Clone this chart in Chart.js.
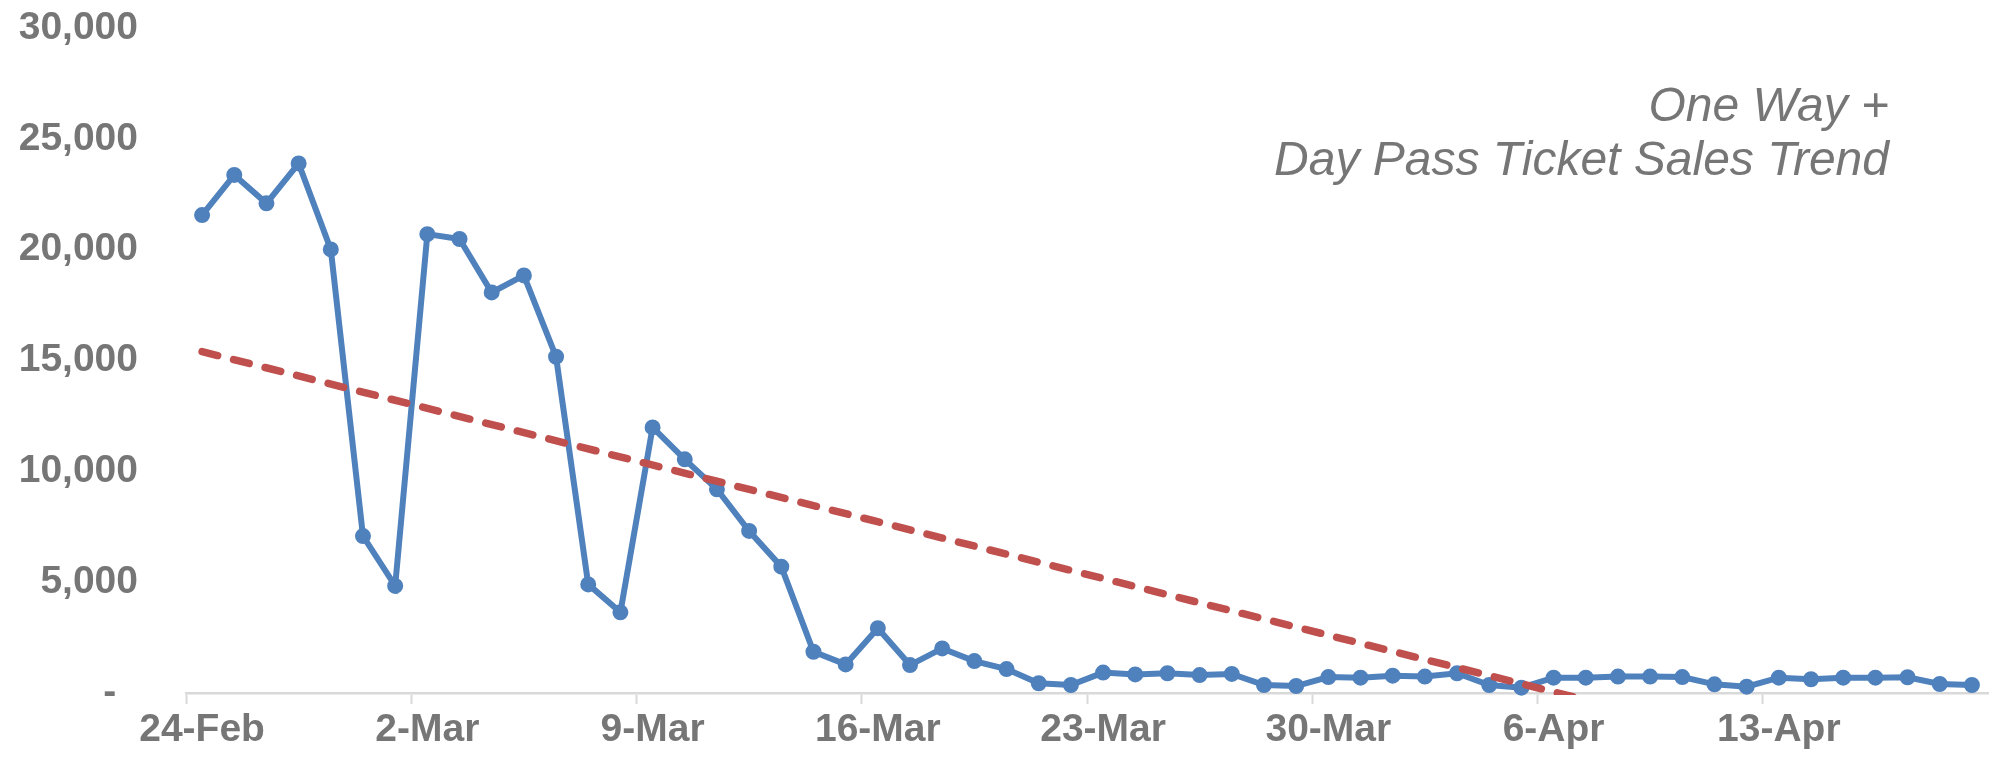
<!DOCTYPE html>
<html>
<head>
<meta charset="utf-8">
<title>One Way + Day Pass Ticket Sales Trend</title>
<script src="https://cdn.jsdelivr.net/npm/chart.js@4.4.1/dist/chart.umd.min.js"></script>
<style>
  html, body { margin: 0; padding: 0; background: #ffffff; }
  #wrap { position: relative; width: 1997px; height: 761px; }
</style>
</head>
<body>
<div id="wrap"><canvas id="chart"></canvas></div>
<script>
// Daily dates, 24 Feb - 19 Apr
const dates = [
  '24-Feb','25-Feb','26-Feb','27-Feb','28-Feb','29-Feb',
  '1-Mar','2-Mar','3-Mar','4-Mar','5-Mar','6-Mar','7-Mar','8-Mar','9-Mar','10-Mar',
  '11-Mar','12-Mar','13-Mar','14-Mar','15-Mar','16-Mar','17-Mar','18-Mar','19-Mar','20-Mar',
  '21-Mar','22-Mar','23-Mar','24-Mar','25-Mar','26-Mar','27-Mar','28-Mar','29-Mar','30-Mar','31-Mar',
  '1-Apr','2-Apr','3-Apr','4-Apr','5-Apr','6-Apr','7-Apr','8-Apr','9-Apr','10-Apr',
  '11-Apr','12-Apr','13-Apr','14-Apr','15-Apr','16-Apr','17-Apr','18-Apr','19-Apr'
];

// One way + day pass tickets sold per day
const ticketSales = [
  21560, 23370, 22090, 23890, 20010, 7080,
  4830, 20700, 20480, 18070, 18840, 15170, 4900, 3640, 11980, 10540,
  9190, 7310, 5700, 1860, 1290, 2920, 1260, 2010, 1440, 1080,
  440, 360, 920, 840, 890, 810, 860, 360, 315, 720, 690,
  780, 740, 890, 360, 240, 690, 690, 740, 740, 720,
  390, 285, 690, 620, 690, 690, 710, 405, 360
];

// Linear trend: value on the first and on the last day
const trendFirst = 15400;
const trendLast = -4700;

// Value axis ticks
const yTickValues = [0, 5000, 10000, 15000, 20000, 25000, 30000];

const titleLines = ['One Way +', 'Day Pass Ticket Sales Trend'];

const GREY = '#767676';
const BLUE = '#4F81BD';
const RED = '#C0504D';
const AXIS = '#D9D9D9';
const FONT = '"Liberation Sans", Arial, Helvetica, sans-serif';

const trendData = dates.map((d, i) =>
  i === 0 ? trendFirst : (i === dates.length - 1 ? trendLast : null));

const cornerTitle = {
  id: 'cornerTitle',
  afterDraw(chart) {
    const ctx = chart.ctx;
    ctx.save();
    ctx.font = 'italic 48px ' + FONT;
    ctx.fillStyle = GREY;
    ctx.textAlign = 'right';
    ctx.textBaseline = 'alphabetic';
    ctx.fillText(titleLines[0], 1889, 121);
    ctx.fillText(titleLines[1], 1889, 175);
    ctx.restore();
  }
};

new Chart(document.getElementById('chart'), {
  type: 'line',
  data: {
    labels: dates,
    datasets: [
      {
        label: 'Trend',
        data: trendData,
        spanGaps: true,
        borderColor: RED,
        borderWidth: 7.5,
        borderDash: [16, 16.5],
        borderCapStyle: 'round',
        pointRadius: 0,
        pointHoverRadius: 0,
        fill: false,
        tension: 0,
        clip: { left: 0, top: 0, right: 0, bottom: 2 },
        order: 0
      },
      {
        label: 'One Way + Day Pass',
        data: ticketSales,
        borderColor: BLUE,
        backgroundColor: BLUE,
        borderWidth: 6,
        pointRadius: 7,
        pointBorderWidth: 2,
        pointBackgroundColor: BLUE,
        pointBorderColor: BLUE,
        fill: false,
        tension: 0,
        clip: false,
        order: 1
      }
    ]
  },
  options: {
    responsive: true,
    maintainAspectRatio: false,
    devicePixelRatio: 1,
    animation: false,
    layout: { padding: { top: 28, right: 1, left: 0, bottom: 0 } },
    plugins: {
      legend: { display: false },
      tooltip: { enabled: false },
      title: { display: false }
    },
    scales: {
      x: {
        type: 'category',
        offset: true,
        grid: {
          display: true,
          offset: true,
          drawOnChartArea: false,
          drawTicks: true,
          tickLength: 11,
          tickWidth: 2,
          color: ctx => (ctx.index % 7 === 0 ? AXIS : 'rgba(0,0,0,0)'),
          tickColor: ctx => (ctx.index % 7 === 0 ? AXIS : 'rgba(0,0,0,0)')
        },
        border: { display: true, color: AXIS, width: 2.5 },
        ticks: {
          autoSkip: false,
          maxRotation: 0,
          minRotation: 0,
          padding: 3,
          color: GREY,
          font: { family: FONT, size: 39, weight: 'bold' },
          callback: (value, index) => (index % 7 === 0 ? dates[index] : '')
        },
        afterFit: scale => { scale.height = 68; }
      },
      y: {
        min: 0,
        max: 30000,
        grid: { display: false, drawTicks: false },
        border: { display: false },
        afterBuildTicks: scale => { scale.ticks = yTickValues.map(v => ({ value: v })); },
        ticks: {
          padding: 48,
          color: GREY,
          font: { family: FONT, size: 39, weight: 'bold' },
          callback: v => (v === 0 ? '-  ' : Number(v).toLocaleString('en-US'))
        },
        afterFit: scale => {
          scale.width = 186;
          scale.paddingTop = 0;
          scale.paddingBottom = 0;
        }
      }
    }
  },
  plugins: [cornerTitle]
});
</script>
</body>
</html>
